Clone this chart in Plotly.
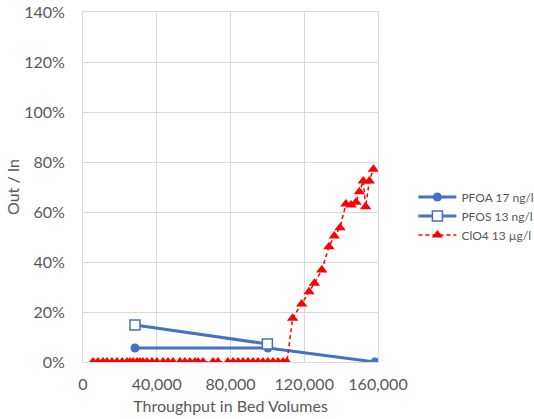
import plotly.graph_objects as go

# Throughput (bed volumes) and breakthrough ratios (Out / In)
pfoa_bv = [28200, 100300, 158400]
pfoa_ratio = [0.056, 0.056, 0.0]

pfos_bv = [28200, 100000]
pfos_ratio = [0.148, 0.072]

clo4_bv = [5400, 8100, 10800, 13000, 15700, 18400, 21200, 23900, 25500, 27100,
           29300, 30900, 32500, 34700, 37400, 40100, 43400, 46100, 48800, 52600,
           55300, 58000, 60700, 62400, 65100, 70500, 73200, 78600, 81400, 84100,
           86800, 89500, 92200, 94900, 97600, 100300, 103100, 105800, 108500, 110600,
           113700, 118600, 122600, 125500, 129500, 133400, 136300, 139400, 142600,
           145400, 148100, 149900, 152000, 153300, 155300, 157500]
clo4_ratio = [0.0] * 40 + [0.175, 0.232, 0.281, 0.315, 0.368, 0.461, 0.504, 0.537,
                           0.632, 0.628, 0.639, 0.681, 0.724, 0.621, 0.724, 0.771]

x_ticks = [0, 40000, 80000, 120000, 160000]
y_ticks = [0, 0.2, 0.4, 0.6, 0.8, 1.0, 1.2, 1.4]

BLUE = "#4472C4"
RED = "#FF0000"
TXT = "#595959"
FONT = "Lato"

fig = go.Figure()
fig.add_trace(go.Scatter(
    x=pfoa_bv, y=pfoa_ratio, name="PFOA 17 ng/l", mode="lines+markers",
    line=dict(color=BLUE, width=3),
    marker=dict(symbol="circle", size=9, color=BLUE),
))
fig.add_trace(go.Scatter(
    x=pfos_bv, y=pfos_ratio, name="PFOS 13 ng/l", mode="lines+markers",
    line=dict(color=BLUE, width=3),
    marker=dict(symbol="square", size=10, color="white", line=dict(color=BLUE, width=1.5)),
))
fig.add_trace(go.Scatter(
    x=clo4_bv, y=clo4_ratio, name="ClO4 13 µg/l", mode="lines+markers",
    line=dict(color=RED, width=1.5, dash="4px,3px"),
    marker=dict(symbol="triangle-up", size=10, color=RED),
))

fig.update_layout(
    width=534, height=419,
    margin=dict(l=83, r=156, t=12, b=57, autoexpand=False),
    paper_bgcolor="white", plot_bgcolor="white",
    font=dict(family=FONT, size=16, color=TXT),
    showlegend=True,
    legend=dict(
        x=1.12, y=0.417, xanchor="left", yanchor="middle",
        font=dict(family=FONT, size=12, color=TXT),
        tracegroupgap=0, itemwidth=38,
    ),
    xaxis=dict(
        range=[0, 160000], tickvals=x_ticks, tickformat=",d",
        showgrid=True, gridcolor="#D9D9D9", gridwidth=1,
        zeroline=False, showline=True, linecolor="#D9D9D9", mirror=True,
        ticks="", ticklabelstandoff=8, automargin=False,
        title=dict(text="Throughput in Bed Volumes", font=dict(size=16, color=TXT), standoff=8),
    ),
    yaxis=dict(
        range=[0, 1.4], tickvals=y_ticks, tickformat=".0%",
        showgrid=True, gridcolor="#D9D9D9", gridwidth=1,
        zeroline=False, showline=True, linecolor="#D9D9D9", mirror=True,
        ticks="", ticklabelstandoff=14, automargin=False,
        title=dict(text="Out / In", font=dict(size=16, color=TXT), standoff=0),
    ),
)

fig.write_html("out.html")
